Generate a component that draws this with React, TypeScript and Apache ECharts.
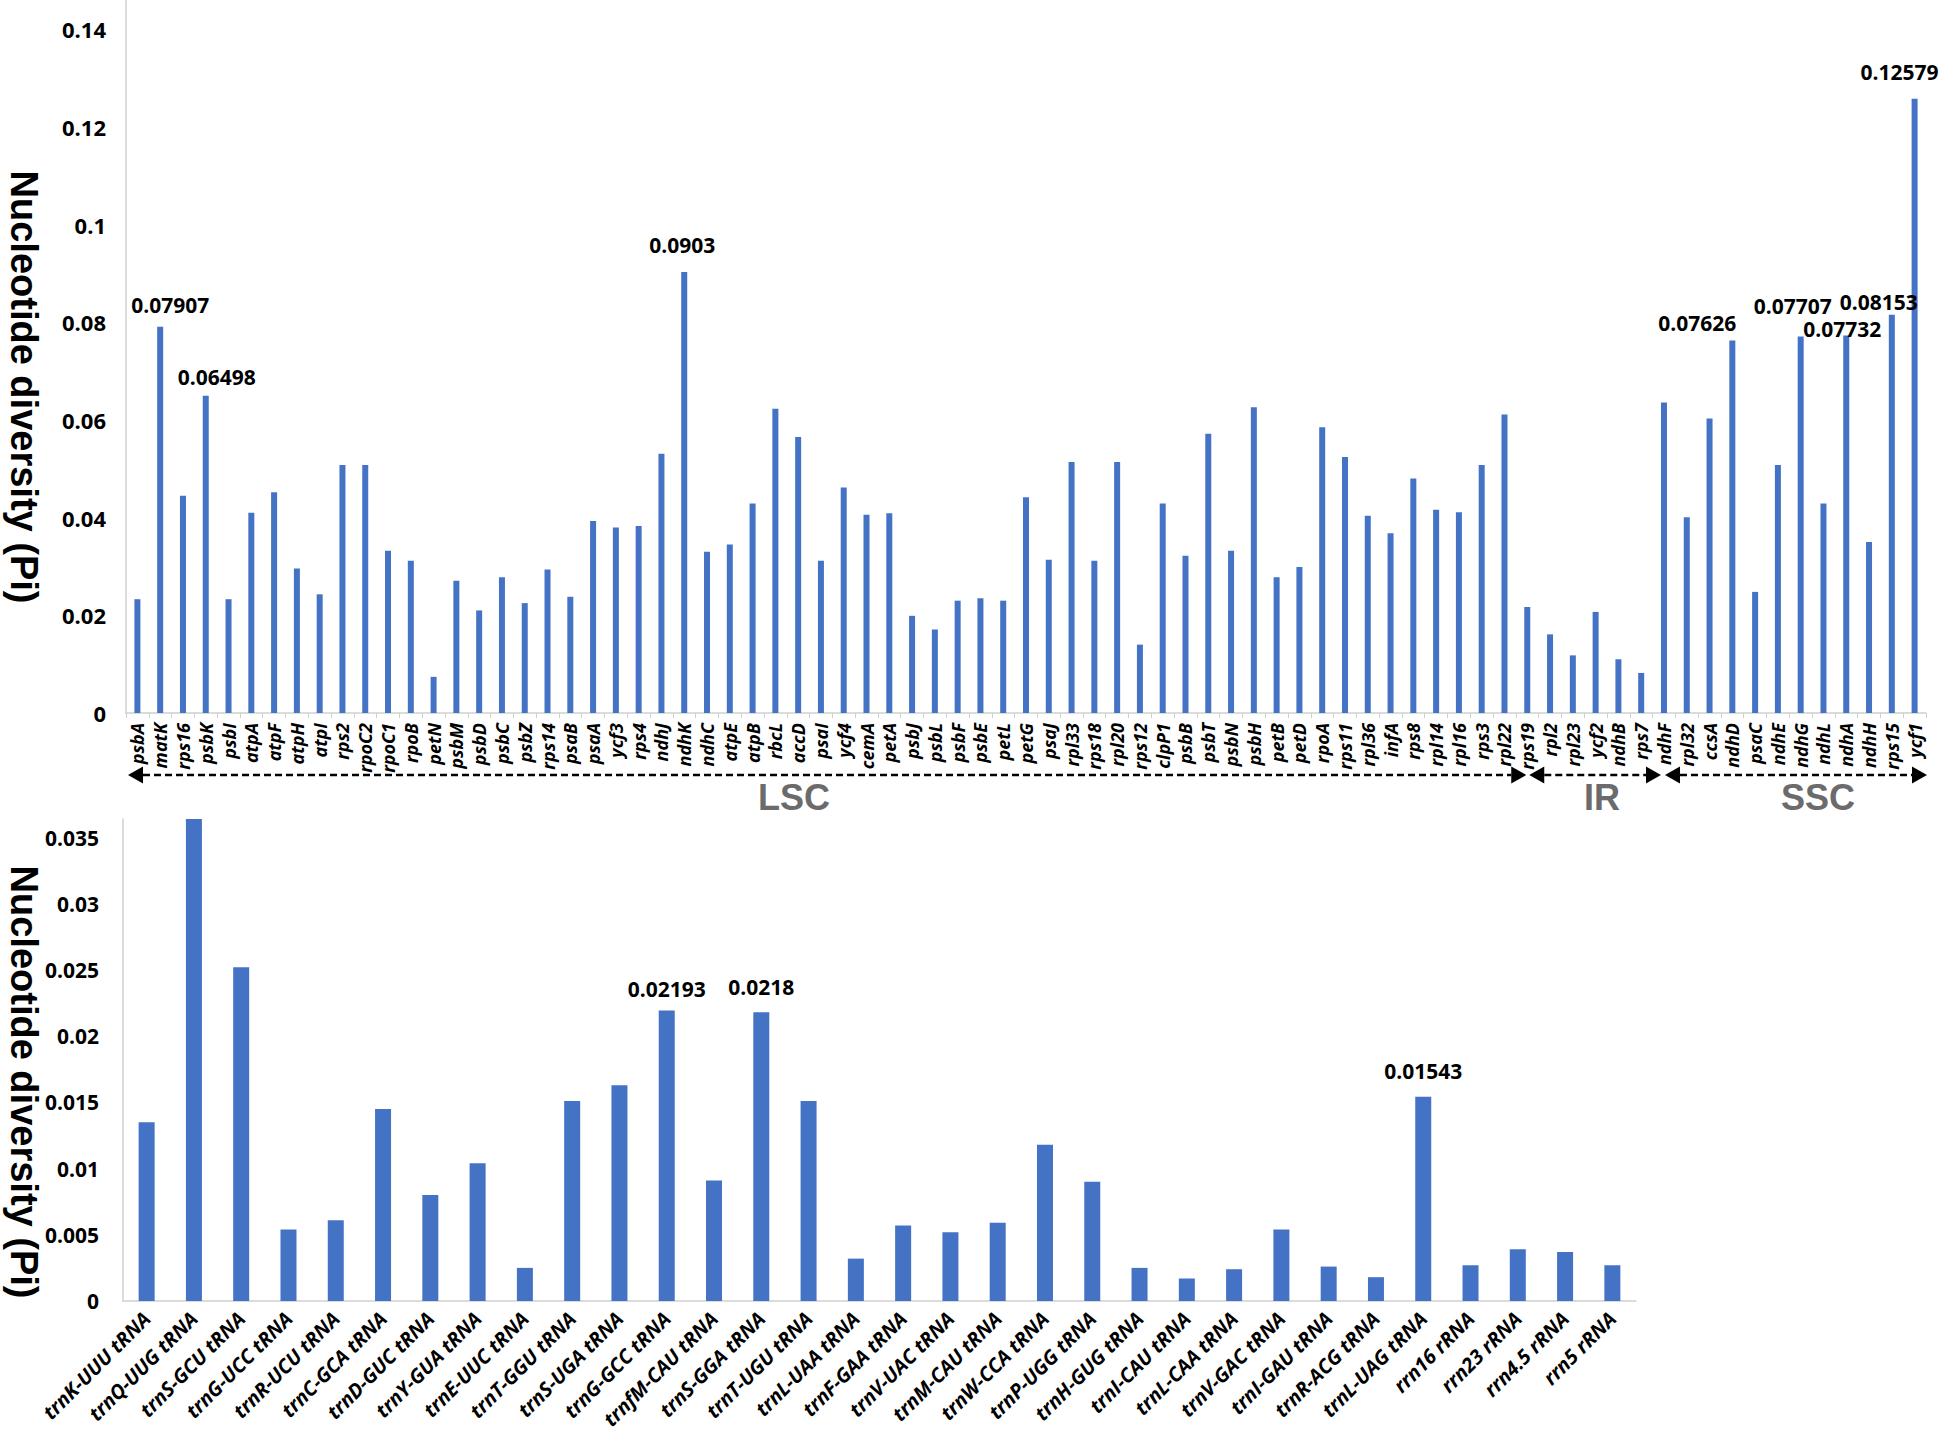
import React, { useEffect, useRef } from "react";
import * as echarts from "echarts";

// ---------- data ----------
const proteinGenes = [
  "psbA", "matK", "rps16", "psbK", "psbI", "atpA", "atpF", "atpH", "atpI", "rps2",
  "rpoC2", "rpoC1", "rpoB", "petN", "psbM", "psbD", "psbC", "psbZ", "rps14", "psaB",
  "psaA", "ycf3", "rps4", "ndhJ", "ndhK", "ndhC", "atpE", "atpB", "rbcL", "accD",
  "psaI", "ycf4", "cemA", "petA", "psbJ", "psbL", "psbF", "psbE", "petL", "petG",
  "psaJ", "rpl33", "rps18", "rpl20", "rps12", "clpP1", "psbB", "psbT", "psbN", "psbH",
  "petB", "petD", "rpoA", "rps11", "rpl36", "infA", "rps8", "rpl14", "rpl16", "rps3",
  "rpl22", "rps19", "rpl2", "rpl23", "ycf2", "ndhB", "rps7", "ndhF", "rpl32", "ccsA",
  "ndhD", "psaC", "ndhE", "ndhG", "ndhL", "ndhA", "ndhH", "rps15", "ycf1",
];
const proteinPi = [
  0.0233, 0.07907, 0.0445, 0.06498, 0.0233, 0.041, 0.0452, 0.0296, 0.0243, 0.0508,
  0.0508, 0.0332, 0.0312, 0.0074, 0.0271, 0.021, 0.0278, 0.0225, 0.0294, 0.0238,
  0.0393, 0.038, 0.0383, 0.0531, 0.0903, 0.033, 0.0345, 0.0429, 0.0623, 0.0565,
  0.0312, 0.0462, 0.0406, 0.0409, 0.0199, 0.0171, 0.023, 0.0235, 0.023, 0.0442,
  0.0314, 0.0514, 0.0312, 0.0514, 0.014, 0.0429, 0.0322, 0.0572, 0.0332, 0.0626,
  0.0278, 0.0299, 0.0585, 0.0524, 0.0404, 0.0368, 0.048, 0.0416, 0.0411, 0.0508,
  0.0611, 0.0217, 0.0161, 0.0118, 0.0207, 0.011, 0.0082, 0.0636, 0.0401, 0.0603,
  0.07626, 0.0248, 0.0508, 0.07707, 0.0429, 0.07732, 0.035, 0.08153, 0.12579,
];
const proteinTicks = [0, 0.02, 0.04, 0.06, 0.08, 0.1, 0.12, 0.14];
const proteinLabelled = ["matK", "psbK", "ndhK", "ndhD", "ndhG", "ndhA", "rps15", "ycf1"];

const rnaGenes = [
  "trnK-UUU tRNA", "trnQ-UUG tRNA", "trnS-GCU tRNA", "trnG-UCC tRNA", "trnR-UCU tRNA",
  "trnC-GCA tRNA", "trnD-GUC tRNA", "trnY-GUA tRNA", "trnE-UUC tRNA", "trnT-GGU tRNA",
  "trnS-UGA tRNA", "trnG-GCC tRNA", "trnfM-CAU tRNA", "trnS-GGA tRNA", "trnT-UGU tRNA",
  "trnL-UAA tRNA", "trnF-GAA tRNA", "trnV-UAC tRNA", "trnM-CAU tRNA", "trnW-CCA tRNA",
  "trnP-UGG tRNA", "trnH-GUG tRNA", "trnI-CAU tRNA", "trnL-CAA tRNA", "trnV-GAC tRNA",
  "trnI-GAU tRNA", "trnR-ACG tRNA", "trnL-UAG tRNA", "rrn16 rRNA", "rrn23 rRNA",
  "rrn4.5 rRNA", "rrn5 rRNA",
];
const rnaPi = [
  0.0135, 0.0364, 0.0252, 0.0054, 0.0061, 0.0145, 0.008, 0.0104, 0.0025, 0.0151,
  0.0163, 0.02193, 0.0091, 0.0218, 0.0151, 0.0032, 0.0057, 0.0052, 0.0059, 0.0118,
  0.009, 0.0025, 0.0017, 0.0024, 0.0054, 0.0026, 0.0018, 0.01543, 0.0027, 0.0039,
  0.0037, 0.0027,
];
const rnaTicks = [0, 0.005, 0.01, 0.015, 0.02, 0.025, 0.03, 0.035];
const rnaLabelled = ["trnG-GCC tRNA", "trnS-GGA tRNA", "trnL-UAG tRNA"];

const regions = ["LSC", "IR", "SSC"];
const yTitle = "Nucleotide diversity (Pi)";

// label nudges (px)
const labelNudge: Record<string, [number, number]> = {
  matK: [10, -6], psbK: [11, -3], ndhK: [-2, -11], ndhD: [-35, -2], ndhG: [-8, -15],
  ndhA: [-4, 10], rps15: [-13, 3], ycf1: [-15, -11],
  "trnG-GCC tRNA": [0, -6], "trnS-GGA tRNA": [0, -9], "trnL-UAG tRNA": [0, -10],
};

const BAR = "#4472C4";
const AXIS = "#d0d0d0";
const NUM_FONT = "'Open Sans', 'Noto Sans', sans-serif";

const fmt = (v: number) => String(+Number(v).toFixed(5));

function buildData(genes: string[], vals: number[], labelled: string[]) {
  return vals.map((v, i) => {
    const g = genes[i];
    if (labelled.indexOf(g) >= 0) {
      return {
        value: v,
        label: {
          show: true,
          position: "top",
          distance: 5,
          offset: labelNudge[g] || [0, 0],
          formatter: () => fmt(v),
          fontFamily: NUM_FONT,
          fontWeight: "bold",
          fontSize: 21,
          lineHeight: 22,
          color: "#000",
        },
      };
    }
    return v;
  });
}

export default function App() {
  const ref = useRef<HTMLDivElement>(null);

  useEffect(() => {
    if (!ref.current) return;
    const chart = echarts.init(ref.current, undefined, { renderer: "svg" });

    const topGrid = { left: 126, top: 0, width: 1800, height: 713 };
    const botGrid = { left: 123, top: 819, width: 1513, height: 482 };

    chart.setOption({
      animation: false,
      backgroundColor: "#ffffff",
      grid: [
        { ...topGrid, containLabel: false },
        { ...botGrid, containLabel: false },
      ],
      xAxis: [
        {
          type: "category",
          gridIndex: 0,
          data: proteinGenes,
          axisLine: { show: true, lineStyle: { color: AXIS, width: 1.5 } },
          axisTick: { show: true, alignWithLabel: false, length: 5, lineStyle: { color: AXIS } },
          axisLabel: {
            interval: 0,
            rotate: 90,
            margin: 10,
            fontFamily: NUM_FONT,
            fontStyle: "italic",
            fontWeight: "bold",
            fontSize: 18,
            color: "#000",
          },
        },
        {
          type: "category",
          gridIndex: 1,
          data: rnaGenes,
          axisLine: { show: true, lineStyle: { color: AXIS, width: 1.5 } },
          axisTick: { show: false },
          axisLabel: {
            interval: 0,
            rotate: 45,
            margin: 14,
            fontFamily: NUM_FONT,
            fontStyle: "italic",
            fontWeight: "bold",
            fontSize: 20,
            color: "#000",
          },
        },
      ],
      yAxis: [
        {
          type: "value",
          gridIndex: 0,
          min: 0,
          max: 0.146,
          interval: 0.02,
          splitLine: { show: false },
          axisLine: { show: true, lineStyle: { color: AXIS, width: 1.5 } },
          axisTick: { show: false },
          axisLabel: {
            showMaxLabel: false,
            margin: 20,
            fontFamily: NUM_FONT,
            fontWeight: "bold",
            fontSize: 22,
            color: "#000",
            formatter: (v: number) => (proteinTicks.some((t) => Math.abs(t - v) < 1e-9) ? fmt(v) : ""),
          },
        },
        {
          type: "value",
          gridIndex: 1,
          min: 0,
          max: 0.0364,
          interval: 0.005,
          splitLine: { show: false },
          axisLine: { show: true, lineStyle: { color: AXIS, width: 1.5 } },
          axisTick: { show: false },
          axisLabel: {
            showMaxLabel: false,
            margin: 24,
            fontFamily: NUM_FONT,
            fontWeight: "bold",
            fontSize: 21,
            color: "#000",
            formatter: (v: number) => (rnaTicks.some((t) => Math.abs(t - v) < 1e-9) ? fmt(v) : ""),
          },
        },
      ],
      series: [
        {
          type: "bar",
          xAxisIndex: 0,
          yAxisIndex: 0,
          barWidth: 6,
          itemStyle: { color: BAR },
          data: buildData(proteinGenes, proteinPi, proteinLabelled),
        },
        {
          type: "bar",
          xAxisIndex: 1,
          yAxisIndex: 1,
          barWidth: 16,
          itemStyle: { color: BAR },
          data: buildData(rnaGenes, rnaPi, rnaLabelled),
        },
      ],
    });

    // region arrows under the top axis
    const px = (name: string) => chart.convertToPixel({ xAxisIndex: 0 }, name) as number;
    const xL = topGrid.left + 2;
    const xR = topGrid.left + topGrid.width + 1;
    const xA = px("rps19");
    const xB = px("ndhF");
    const ay = 775;
    const head = 15;
    const hh = 8.5;
    const arrow = (x0: number, x1: number) => [
      {
        type: "line",
        shape: { x1: x0 + head, y1: ay, x2: x1 - head, y2: ay },
        style: { stroke: "#000", lineWidth: 2.5, lineDash: [7, 4] },
        silent: true,
      },
      {
        type: "polygon",
        shape: { points: [[x0, ay], [x0 + head, ay - hh], [x0 + head, ay + hh]] },
        style: { fill: "#000" },
        silent: true,
      },
      {
        type: "polygon",
        shape: { points: [[x1, ay], [x1 - head, ay - hh], [x1 - head, ay + hh]] },
        style: { fill: "#000" },
        silent: true,
      },
    ];
    const regionText = (text: string, x: number) => ({
      type: "text",
      x,
      y: 797,
      silent: true,
      style: {
        text,
        fill: "#6b6b6b",
        fontFamily: "'Liberation Sans', Arial, sans-serif",
        fontWeight: "bold",
        fontSize: 36,
        align: "center",
        verticalAlign: "middle",
        textAlign: "center",
        textVerticalAlign: "middle",
      },
    });
    const axisTitle = (y: number) => ({
      type: "text",
      x: 24,
      y,
      rotation: -Math.PI / 2,
      silent: true,
      style: {
        text: yTitle,
        fill: "#000",
        fontFamily: "'Liberation Sans', Arial, sans-serif",
        fontWeight: "bold",
        fontSize: 38,
        align: "center",
        verticalAlign: "middle",
        textAlign: "center",
        textVerticalAlign: "middle",
      },
    });

    chart.setOption({
      graphic: [
        ...arrow(xL, xA - 1),
        ...arrow(xA + 2, xB - 3),
        ...arrow(xB + 1, xR),
        regionText(regions[0], 794),
        regionText(regions[1], 1602),
        regionText(regions[2], 1818),
        axisTitle(387),
        axisTitle(1082),
      ],
    });

    return () => chart.dispose();
  }, []);

  return (
    <div
      ref={ref}
      style={{ position: "absolute", left: 0, top: 0, width: 1949, height: 1444, background: "#fff" }}
    />
  );
}
